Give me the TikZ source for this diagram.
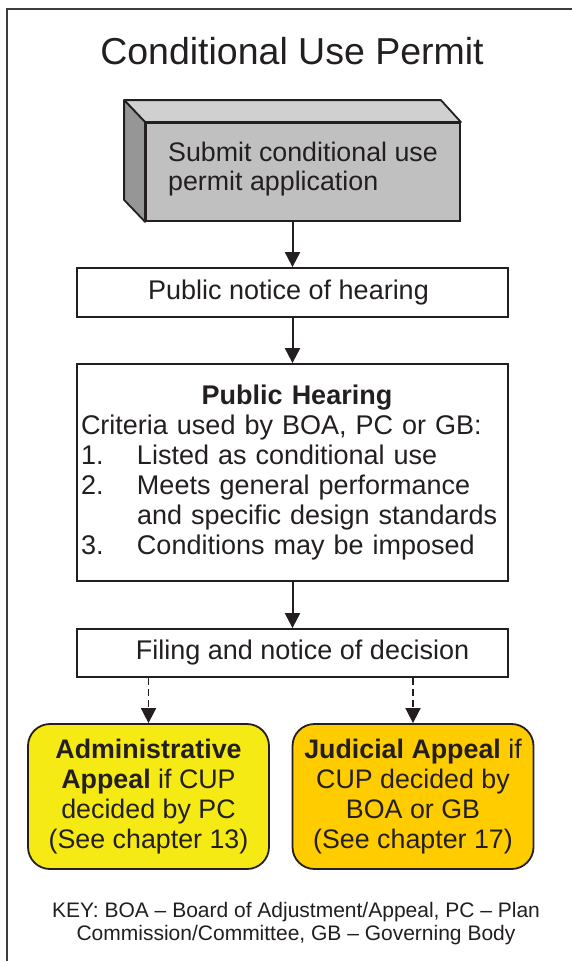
\documentclass[tikz,border=0pt]{standalone}
\usepackage{fontspec}
\setmainfont{Liberation Sans}
\usetikzlibrary{arrows.meta}
\definecolor{txt}{RGB}{35,31,32}
\definecolor{framec}{RGB}{60,60,60}
\definecolor{frontgray}{RGB}{192,192,192}
\definecolor{topgray}{RGB}{208,208,208}
\definecolor{sidegray}{RGB}{150,150,150}
\definecolor{adminyellow}{RGB}{245,234,20}
\definecolor{judgold}{RGB}{255,204,0}
\begin{document}
\begin{tikzpicture}[x=1pt,y=-1pt,
  flowbox/.style={draw=txt, line width=1.8pt, fill=white, minimum width=431pt,
    inner sep=0pt, font=\fontsize{27}{30}\selectfont, text=txt},
  appealbox/.style={draw=txt, line width=1.8pt, rounded corners=22pt,
    minimum width=241pt, minimum height=145pt, align=center, inner sep=0pt,
    font=\fontsize{26.8}{30}\selectfont, text=txt},
  face/.style={draw=txt, line width=1.8pt, line join=round},
  arr/.style={draw=txt, line width=2pt, -{Triangle[width=15pt,length=15pt]}},
  dasharr/.style={arr, line width=1.7pt, dash pattern=on 7pt off 4pt}]
\useasboundingbox (0,0) rectangle (572,961);
\fill[white] (0,0) rectangle (572,961);
% outer frame
\draw[framec, line width=2.5pt] (7,965) -- (7,9) -- (580,9);
% title
\node[font=\fontsize{37.5}{40}\selectfont, text=txt, anchor=base, inner sep=0pt] (title) at (292,64) {Conditional Use Permit};
% 3D box
\node[draw=txt, line width=1.8pt, fill=frontgray, minimum width=314pt, minimum height=98pt,
  align=left, inner sep=0pt, font=\fontsize{26.8}{29}\selectfont, text=txt] (submit) at (303,172)
  {Submit conditional use\\permit application\rule[-11pt]{0pt}{1pt}};
\filldraw[face, fill=topgray] (submit.north west) -- ++(-21,-22) -- ([shift={(-20,-22)}]submit.north east) -- (submit.north east) -- cycle;
\filldraw[face, fill=sidegray] (submit.north west) -- ++(-21,-22) -- ([shift={(-21,-22)}]submit.south west) -- (submit.south west) -- cycle;
% flow boxes
\node[flowbox, minimum height=49pt] (notice) at (292.5,292.5) {\hspace*{-8pt}Public notice of hearing};
\node[flowbox, minimum height=217pt, text width=427pt, align=left] (hearing) at (292.5,472.5)
  {\hspace*{2pt}\makebox[425pt]{\hspace*{7pt}\textbf{Public Hearing}}\\
   \hspace*{2pt}Criteria used by BOA, PC or GB:\\
   \hspace*{2pt}\makebox[56pt][l]{1.}Listed as conditional use\\
   \hspace*{2pt}\makebox[56pt][l]{2.}Meets general performance\\
   \hspace*{58pt}and specific design standards\\
   \hspace*{2pt}\makebox[56pt][l]{3.}Conditions may be imposed};
\node[flowbox, minimum height=48pt] (filing) at (292.5,653) {\hspace*{20pt}Filing and notice of decision};
% appeal boxes
\node[appealbox, fill=adminyellow] (admin) at (148.5,796.5)
  {\textbf{Administrative}\\\textbf{Appeal} if CUP\\decided by PC\\(See chapter 13)};
\node[appealbox, fill=judgold] (judicial) at (413,796.5)
  {\textbf{Judicial Appeal} if\\CUP decided by\\BOA or GB\\(See chapter 17)};
% key
\node[font=\fontsize{21}{23}\selectfont, align=center, text=txt, inner sep=0pt] (key) at (296,924)
  {KEY: BOA – Board of Adjustment/Appeal, PC – Plan\\Commission/Committee, GB – Governing Body};
% connectors
\draw[arr] (notice.north |- submit.south) -- (notice.north);
\draw[arr] (notice.south) -- (hearing.north);
\draw[arr] (hearing.south) -- (filing.north);
\draw[dasharr] (admin.north |- filing.south) -- (admin.north);
\draw[dasharr] (judicial.north |- filing.south) -- (judicial.north);
\end{tikzpicture}
\end{document}
